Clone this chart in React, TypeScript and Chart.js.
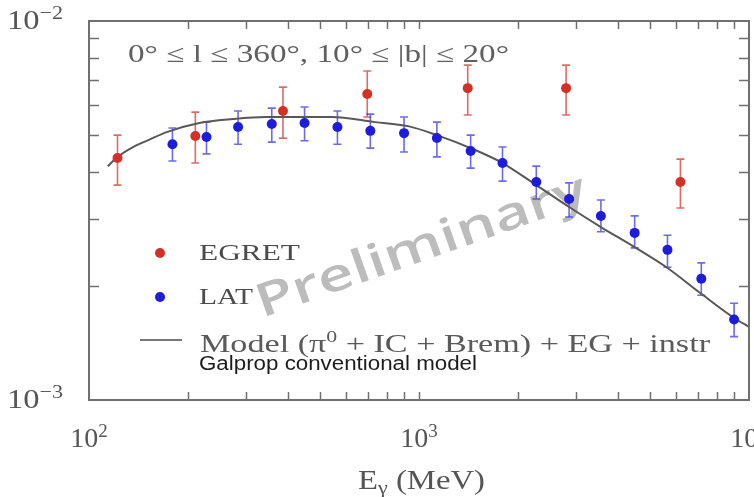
import React, { useEffect, useRef } from "react";
import { Chart, registerables } from "chart.js";

Chart.register(...registerables);

// ---------- data ----------
const EGRET_E = [122, 210, 387, 697, 1405, 2791, 6197];
const EGRET_F = [4.35e-3, 4.97e-3, 5.79e-3, 6.42e-3, 6.65e-3, 6.65e-3, 3.76e-3];
const EGRET_HI = [5.0e-3, 5.75e-3, 6.69e-3, 7.38e-3, 7.65e-3, 7.65e-3, 4.32e-3];
const EGRET_LO = [3.69e-3, 4.22e-3, 4.91e-3, 5.58e-3, 5.65e-3, 5.65e-3, 3.21e-3];

const LAT_E = [179, 227, 283, 358, 450, 566, 712, 901, 1133, 1434, 1791, 2267, 2850, 3558, 4503, 5662, 7169, 9013];
const LAT_F = [4.73e-3, 4.94e-3, 5.25e-3, 5.35e-3, 5.38e-3, 5.25e-3, 5.13e-3, 5.06e-3, 4.91e-3, 4.54e-3, 4.22e-3, 3.76e-3, 3.39e-3, 3.06e-3, 2.76e-3, 2.49e-3, 2.09e-3, 1.63e-3];
const LAT_HI = [5.22e-3, 5.41e-3, 5.79e-3, 5.89e-3, 5.93e-3, 5.79e-3, 5.68e-3, 5.58e-3, 5.41e-3, 5.0e-3, 4.65e-3, 4.14e-3, 3.74e-3, 3.37e-3, 3.06e-3, 2.72e-3, 2.3e-3, 1.8e-3];
const LAT_LO = [4.27e-3, 4.46e-3, 4.73e-3, 4.79e-3, 4.83e-3, 4.73e-3, 4.62e-3, 4.51e-3, 4.38e-3, 4.09e-3, 3.78e-3, 3.39e-3, 3.04e-3, 2.78e-3, 2.52e-3, 2.24e-3, 1.89e-3, 1.47e-3];

const MODEL_E = [114, 122, 136, 153, 172, 216, 272, 344, 432, 543, 737, 926, 1133, 1434, 1791, 2267, 2850, 3558, 4503, 5662, 7120, 9013, 10000];
const MODEL_F = [4.14e-3, 4.38e-3, 4.65e-3, 4.87e-3, 5.09e-3, 5.38e-3, 5.51e-3, 5.58e-3, 5.58e-3, 5.58e-3, 5.41e-3, 5.28e-3, 5.0e-3, 4.62e-3, 4.22e-3, 3.69e-3, 3.23e-3, 2.86e-3, 2.53e-3, 2.23e-3, 1.915e-3, 1.646e-3, 1.56e-3];

const X_MIN = 100;
const X_MAX = 10000;
const Y_MIN = 1e-3;
const Y_MAX = 1e-2;

const X_MINOR_TICKS = [200, 300, 400, 500, 600, 700, 800, 900, 1000, 2000, 3000, 4000, 5000, 6000, 7000, 8000, 9000];
const Y_MINOR_TICKS = [2e-3, 3e-3, 4e-3, 5e-3, 6e-3, 7e-3, 8e-3, 9e-3];

const X_LABEL_VALUES = [100, 1000, 10000];
const X_LABEL_EXP = ["2", "3", "4"];
const Y_LABEL_VALUES = [1e-3, 1e-2];
const Y_LABEL_EXP = ["\u22123", "\u22122"];

const TITLE = "0\u00B0 \u2264 l \u2264 360\u00B0, 10\u00B0 \u2264 |b| \u2264 20\u00B0";
const LEGEND_EGRET = "EGRET";
const LEGEND_LAT = "LAT";
const LEGEND_MODEL_A = "Model (\u03C0";
const LEGEND_MODEL_SUP = "0";
const LEGEND_MODEL_B = " + IC + Brem) + EG + instr";
const LEGEND_NOTE = "Galprop conventional model";
const X_TITLE_A = "E";
const X_TITLE_SUB = "\u03B3";
const X_TITLE_B = " (MeV)";
const WATERMARK = "Preliminary";

const RED = "rgb(212,48,38)";
const RED_BAR = "rgba(214,70,60,0.8)";
const BLUE = "rgb(28,28,218)";
const BLUE_BAR = "rgba(50,50,225,0.72)";
const MODEL_COLOR = "#585858";
const FRAME = "#707070";
const SERIF = '"Liberation Serif", "DejaVu Serif", serif';
const SANS = '"Liberation Sans", Arial, sans-serif';

type Seg = { t: string; size: number; dy?: number; family?: string; weight?: string };

function segFont(s: Seg) {
  return `${s.weight || "normal"} ${s.size}px ${s.family || SERIF}`;
}

function measure(ctx: CanvasRenderingContext2D, segs: Seg[]) {
  const ws = segs.map((s) => {
    ctx.font = segFont(s);
    return ctx.measureText(s.t).width;
  });
  return { ws, total: ws.reduce((a, b) => a + b, 0) };
}

function drawRich(
  ctx: CanvasRenderingContext2D,
  segs: Seg[],
  x: number,
  y: number,
  color: string,
  width?: number,
  align: "left" | "center" | "right" = "left"
) {
  const { ws, total } = measure(ctx, segs);
  const sx = width ? width / total : 1;
  const w = total * sx;
  let x0 = x;
  if (align === "center") x0 = x - w / 2;
  if (align === "right") x0 = x - w;
  ctx.save();
  ctx.translate(x0, y);
  ctx.scale(sx, 1);
  ctx.fillStyle = color;
  ctx.textBaseline = "alphabetic";
  ctx.textAlign = "left";
  let cx = 0;
  segs.forEach((s, i) => {
    ctx.font = segFont(s);
    ctx.fillText(s.t, cx, s.dy || 0);
    cx += ws[i];
  });
  ctx.restore();
}

const decorPlugin = {
  id: "decor",
  beforeDatasetsDraw(chart: any) {
    const { ctx, scales } = chart;
    const xs = scales.x;
    const ys = scales.y;

    // watermark
    ctx.save();
    ctx.translate(262, 318);
    ctx.rotate(-0.34);
    const wm: Seg[] = [{ t: WATERMARK, size: 46, family: '"Open Sans", "DejaVu Sans", sans-serif', weight: "600" }];
    drawRich(ctx, wm, 0, 0, "#bcbcbc", 348);
    ctx.restore();

    // error bars
    const bars = (E: number[], HI: number[], LO: number[], color: string) => {
      ctx.save();
      ctx.strokeStyle = color;
      ctx.lineWidth = 1.6;
      E.forEach((e, i) => {
        const px = xs.getPixelForValue(e);
        const yh = ys.getPixelForValue(HI[i]);
        const yl = ys.getPixelForValue(LO[i]);
        ctx.beginPath();
        ctx.moveTo(px, yh);
        ctx.lineTo(px, yl);
        ctx.moveTo(px - 4, yh);
        ctx.lineTo(px + 4, yh);
        ctx.moveTo(px - 4, yl);
        ctx.lineTo(px + 4, yl);
        ctx.stroke();
      });
      ctx.restore();
    };
    bars(EGRET_E, EGRET_HI, EGRET_LO, RED_BAR);
    bars(LAT_E, LAT_HI, LAT_LO, BLUE_BAR);
  },
  afterDatasetsDraw(chart: any) {
    const { ctx, chartArea: a, scales } = chart;
    const xs = scales.x;
    const ys = scales.y;

    // frame
    ctx.save();
    ctx.strokeStyle = FRAME;
    ctx.lineWidth = 2;
    ctx.strokeRect(a.left, a.top, a.right - a.left, a.bottom - a.top);

    // inner ticks
    ctx.lineWidth = 1.5;
    ctx.beginPath();
    const TL = 8;
    X_MINOR_TICKS.forEach((v) => {
      const px = Math.round(xs.getPixelForValue(v)) + 0.5;
      ctx.moveTo(px, a.bottom);
      ctx.lineTo(px, a.bottom - TL);
      ctx.moveTo(px, a.top);
      ctx.lineTo(px, a.top + TL);
    });
    Y_MINOR_TICKS.forEach((v) => {
      const py = Math.round(ys.getPixelForValue(v)) + 0.5;
      ctx.moveTo(a.left, py);
      ctx.lineTo(a.left + TL + 2, py);
      ctx.moveTo(a.right, py);
      ctx.lineTo(a.right - TL - 2, py);
    });
    ctx.stroke();
    ctx.restore();

    // tick labels
    X_LABEL_VALUES.forEach((v, i) => {
      const px = xs.getPixelForValue(v);
      drawRich(
        ctx,
        [
          { t: "10", size: 28 },
          { t: X_LABEL_EXP[i], size: 19, dy: -10 },
        ],
        px,
        a.bottom + 47,
        "#555",
        undefined,
        "center"
      );
    });
    Y_LABEL_VALUES.forEach((v, i) => {
      const py = ys.getPixelForValue(v);
      drawRich(
        ctx,
        [
          { t: "10", size: 28 },
          { t: Y_LABEL_EXP[i], size: 19, dy: -10 },
        ],
        7,
        py + 8,
        "#555",
        56
      );
    });

    // axis title
    drawRich(
      ctx,
      [
        { t: X_TITLE_A, size: 28 },
        { t: X_TITLE_SUB, size: 19, dy: 5 },
        { t: X_TITLE_B, size: 28 },
      ],
      358,
      489,
      "#555",
      127
    );

    // in-plot title
    drawRich(ctx, [{ t: TITLE, size: 25 }], 128, 62, "#606060", 381);

    // legend
    ctx.save();
    ctx.fillStyle = RED;
    ctx.beginPath();
    ctx.arc(160, 253, 5, 0, Math.PI * 2);
    ctx.fill();
    ctx.fillStyle = BLUE;
    ctx.beginPath();
    ctx.arc(160, 297, 5, 0, Math.PI * 2);
    ctx.fill();
    ctx.strokeStyle = "#777";
    ctx.lineWidth = 2;
    ctx.beginPath();
    ctx.moveTo(140, 340);
    ctx.lineTo(182, 340);
    ctx.stroke();
    ctx.restore();

    drawRich(ctx, [{ t: LEGEND_EGRET, size: 23 }], 199, 260, "#4c4c4c", 101);
    drawRich(ctx, [{ t: LEGEND_LAT, size: 23 }], 199, 304, "#4c4c4c", 54);
    drawRich(
      ctx,
      [
        { t: LEGEND_MODEL_A, size: 25 },
        { t: LEGEND_MODEL_SUP, size: 16, dy: -10 },
        { t: LEGEND_MODEL_B, size: 25 },
      ],
      200,
      352,
      "#5a5a5a",
      510
    );
    drawRich(ctx, [{ t: LEGEND_NOTE, size: 20, family: SANS }], 199, 370, "#1c1c1c", 278);
  },
};

export default function App() {
  const ref = useRef<HTMLCanvasElement>(null);
  useEffect(() => {
    const canvas = ref.current;
    if (!canvas) return;
    const chart = new Chart(canvas, {
      type: "scatter",
      data: {
        datasets: [
          {
            label: "EGRET",
            data: EGRET_E.map((e, i) => ({ x: e, y: EGRET_F[i] })),
            backgroundColor: RED,
            borderColor: RED,
            pointRadius: 5,
            pointBorderWidth: 0,
            showLine: false,
          },
          {
            label: "LAT",
            data: LAT_E.map((e, i) => ({ x: e, y: LAT_F[i] })),
            backgroundColor: BLUE,
            borderColor: BLUE,
            pointRadius: 5,
            pointBorderWidth: 0,
            showLine: false,
          },
          {
            type: "line",
            label: "Model",
            data: MODEL_E.map((e, i) => ({ x: e, y: MODEL_F[i] })),
            borderColor: MODEL_COLOR,
            borderWidth: 2,
            pointRadius: 0,
            fill: false,
            cubicInterpolationMode: "monotone",
          } as any,
        ],
      },
      options: {
        responsive: false,
        maintainAspectRatio: false,
        animation: false,
        devicePixelRatio: 1,
        layout: { padding: { left: 89, top: 21, right: 1, bottom: 97 } },
        scales: {
          x: { type: "logarithmic", min: X_MIN, max: X_MAX, display: false },
          y: { type: "logarithmic", min: Y_MIN, max: Y_MAX, display: false },
        },
        plugins: {
          legend: { display: false },
          tooltip: { enabled: false },
        },
      },
      plugins: [decorPlugin],
    });
    return () => chart.destroy();
  }, []);
  return (
    <div style={{ position: "fixed", left: 0, top: 0, width: 754, height: 497, background: "#fff" }}>
      <canvas ref={ref} width={754} height={497} style={{ display: "block" }} />
    </div>
  );
}
